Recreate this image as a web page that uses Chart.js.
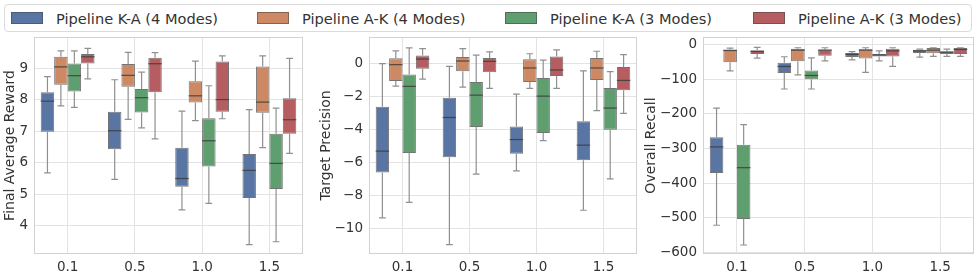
<!DOCTYPE html>
<html>
<head>
<meta charset="utf-8">
<script src="https://cdn.jsdelivr.net/npm/chart.js@4.4.1/dist/chart.umd.min.js"></script>
<style>
  html, body { margin: 0; padding: 0; background: #fff; }
  body { width: 977px; height: 279px; position: relative; overflow: hidden; font-family: "DejaVu Sans", sans-serif; color: #333; }
  #legend { position: absolute; left: 4px; top: 4px; width: 966px; height: 26px; border: 1px solid #dcdcdc; border-radius: 4px; }
  .item { position: absolute; top: 0; height: 26px; display: flex; align-items: center; font-size: 14.6px; white-space: nowrap; }
  .sw { width: 30px; height: 10px; margin-right: 13px; border: 1px solid rgba(70,70,70,0.55); }
  .panel { position: absolute; top: 32px; height: 247px; }
</style>
</head>
<body>
<div id="legend"></div>
<div class="panel" style="left:0px;width:306px"><canvas id="c1"></canvas></div>
<div class="panel" style="left:314px;width:326px"><canvas id="c2"></canvas></div>
<div class="panel" style="left:640px;width:337px"><canvas id="c3"></canvas></div>
<script>
// categories and series
const categories = ['0.1', '0.5', '1.0', '1.5'];
const seriesNames = ['Pipeline K-A (4 Modes)', 'Pipeline A-K (4 Modes)', 'Pipeline K-A (3 Modes)', 'Pipeline A-K (3 Modes)'];
const seriesColors = ['#5975A4', '#CC8963', '#5F9E6E', '#B55D60'];

// each entry: [min, q1, median, q3, max]
const rewardKA4 = [[5.68, 6.99, 7.96, 8.24, 8.74], [5.47, 6.43, 7.02, 7.62, 8.64], [4.50, 5.24, 5.50, 6.48, 7.64], [3.40, 4.88, 5.76, 6.28, 7.69]];
const rewardAK4 = [[7.81, 8.48, 9.05, 9.37, 9.56], [7.38, 8.42, 8.78, 9.14, 9.51], [7.34, 7.92, 8.13, 8.59, 9.23], [6.48, 7.59, 7.93, 9.06, 9.40]];
const rewardKA3 = [[7.76, 8.27, 8.77, 9.16, 9.56], [7.11, 7.60, 8.07, 8.35, 8.88], [4.71, 5.88, 6.70, 7.42, 8.45], [3.49, 5.17, 5.98, 6.92, 7.74]];
const rewardAK3 = [[8.67, 9.16, 9.37, 9.46, 9.64], [6.76, 8.24, 9.15, 9.34, 9.50], [7.40, 7.62, 8.01, 9.22, 9.40], [6.30, 6.92, 7.37, 8.05, 9.32]];

const precisionKA4 = [[-9.35, -6.61, -5.32, -2.64, -0.04], [-10.97, -5.69, -3.29, -2.10, -0.20], [-6.51, -5.48, -4.62, -3.83, -1.88], [-8.89, -5.87, -4.96, -3.51, -0.48]];
const precisionAK4 = [[-1.39, -1.09, -0.10, 0.28, 0.73], [-1.45, -0.50, 0.12, 0.36, 0.87], [-1.53, -1.15, -0.30, 0.22, 0.56], [-2.88, -1.03, -0.30, 0.30, 0.71]];
const precisionKA3 = [[-8.41, -5.44, -1.41, -0.69, 0.91], [-6.71, -3.87, -1.94, -1.15, 0.48], [-4.68, -4.23, -2.00, -0.91, 0.18], [-7.00, -4.03, -2.72, -1.51, -0.52]];
const precisionAK3 = [[-0.97, -0.34, 0.24, 0.46, 0.87], [-1.53, -0.56, 0.10, 0.30, 0.67], [-1.53, -0.79, -0.42, 0.40, 0.79], [-3.04, -1.65, -1.05, -0.24, 0.50]];

const recallKA4 = [[-521, -370, -295, -267, -183], [-128, -82, -63, -52, -35], [-44, -36, -28, -24, -20], [-36, -24, -18, -15, -13]];
const recallAK4 = [[-76, -51, -17, -14, -10], [-87, -48, -16, -12, -9], [-80, -40, -16, -13, -9], [-34, -25, -16, -10, -9]];
const recallKA3 = [[-578, -503, -355, -289, -231], [-128, -100, -89, -75, -38], [-47, -34, -30, -27, -18], [-34, -27, -22, -19, -13]];
const recallAK3 = [[-39, -27, -20, -16, -8], [-47, -32, -16, -14, -9], [-63, -34, -18, -12, -9], [-34, -27, -14, -10, -9]];

// y ticks
const rewardTicks = [4, 5, 6, 7, 8, 9];
const precisionTicks = [-10, -8, -6, -4, -2, 0];
const recallTicks = [-600, -500, -400, -300, -200, -100, 0];

// legend
const legend = document.getElementById('legend');
const legendLeft = [6, 252, 500, 748];
seriesNames.forEach((name, i) => {
  const it = document.createElement('div');
  it.className = 'item';
  it.style.left = legendLeft[i] + 'px';
  it.innerHTML = `<span class="sw" style="background:${seriesColors[i]}"></span><span>${name}</span>`;
  legend.appendChild(it);
});

const boxPlugin = {
  id: 'boxes',
  beforeDatasetsDraw(chart) {
    const a = chart.chartArea;
    const c = chart.ctx;
    c.save();
    c.strokeStyle = '#d2d2d2';
    c.lineWidth = 1;
    c.strokeRect(Math.round(a.left) + 0.5, Math.round(a.top) + 0.5, Math.round(a.right - a.left) - 1, Math.round(a.bottom - a.top) - 1);
    c.restore();
  },
  afterDatasetsDraw(chart) {
    const c = chart.ctx;
    const ys = chart.scales.y;
    c.save();
    chart.data.datasets.forEach((ds, i) => {
      const meta = chart.getDatasetMeta(i);
      meta.data.forEach((el, j) => {
        const s = ds.stats[j];
        const x = el.x, w = el.width;
        const pMin = ys.getPixelForValue(s[0]);
        const pQ1 = ys.getPixelForValue(s[1]);
        const pMed = ys.getPixelForValue(s[2]);
        const pQ3 = ys.getPixelForValue(s[3]);
        const pMax = ys.getPixelForValue(s[4]);
        c.strokeStyle = '#909090';
        c.lineWidth = 1.2;
        c.beginPath();
        c.moveTo(x, pQ3); c.lineTo(x, pMax);
        c.moveTo(x, pQ1); c.lineTo(x, pMin);
        c.moveTo(x - w / 4, pMax); c.lineTo(x + w / 4, pMax);
        c.moveTo(x - w / 4, pMin); c.lineTo(x + w / 4, pMin);
        c.stroke();
        c.strokeStyle = 'rgba(60,60,60,0.85)';
        c.lineWidth = 1.2;
        c.beginPath();
        c.moveTo(x - w / 2, pMed); c.lineTo(x + w / 2, pMed);
        c.stroke();
      });
    });
    c.restore();
  }
};

function noPad(s) {
  s.paddingTop = 0; s.paddingBottom = 0; s.paddingLeft = 0; s.paddingRight = 0;
}

function makePanel(id, title, series, tickVals, yMin, yMax, axisWidth, titlePad) {
  return new Chart(document.getElementById(id), {
    type: 'bar',
    data: {
      labels: categories,
      datasets: series.map((stats, i) => ({
        label: seriesNames[i],
        data: stats.map(s => [s[1], s[3]]),
        stats: stats,
        backgroundColor: seriesColors[i],
        borderColor: 'rgba(70,70,70,0.75)',
        borderWidth: 1,
        borderSkipped: false,
        categoryPercentage: 0.8,
        barPercentage: 1.0,
      })),
    },
    options: {
      responsive: true,
      maintainAspectRatio: false,
      animation: false,
      layout: { padding: { top: 5, right: 3, left: 0, bottom: 0 } },
      plugins: { legend: { display: false }, tooltip: { enabled: false } },
      scales: {
        x: {
          offset: true,
          grid: { offset: false, color: '#e3e3e3', drawTicks: false },
          border: { display: false },
          ticks: { color: '#333', font: { size: 13.5, family: 'DejaVu Sans' }, padding: 5 },
          afterFit: s => { s.height = 25; noPad(s); },
        },
        y: {
          min: yMin,
          max: yMax,
          grid: { color: '#e3e3e3', drawTicks: false },
          border: { display: false },
          afterBuildTicks: s => { s.ticks = tickVals.map(v => ({ value: v })); },
          ticks: {
            color: '#333',
            font: { size: 13.5, family: 'DejaVu Sans' },
            padding: 6,
            callback: v => String(v).replace('-', '\u2212'),
          },
          title: { display: true, text: title, color: '#333', font: { size: 14, family: 'DejaVu Sans' }, padding: { top: titlePad, bottom: 0 } },
          afterFit: s => { s.width = axisWidth; noPad(s); },
        },
      },
    },
    plugins: [boxPlugin],
  });
}

makePanel('c1', 'Final Average Reward', [rewardKA4, rewardAK4, rewardKA3, rewardAK3], rewardTicks, 3.1, 10.0, 34, 2);
makePanel('c2', 'Target Precision', [precisionKA4, precisionAK4, precisionKA3, precisionAK3], precisionTicks, -11.53, 1.57, 55, 4);
makePanel('c3', 'Overall Recall', [recallKA4, recallAK4, recallKA3, recallAK3], recallTicks, -604, 22, 63, 3);
</script>
</body>
</html>
